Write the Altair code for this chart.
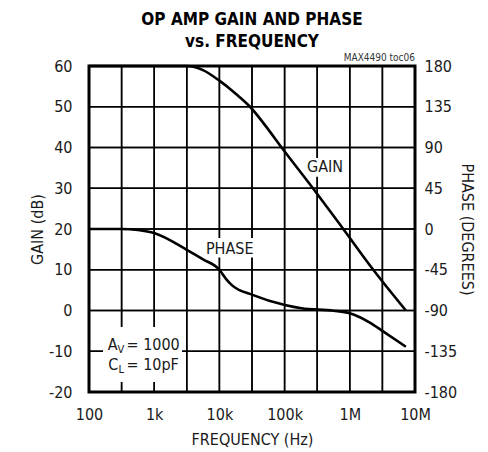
import altair as alt
import pandas as pd

# ---------------- data ----------------
gain_freq = [100, 316, 1000, 3160, 5600, 10000, 17800, 29500, 50000, 90000, 272000,
             794000, 2290000, 7250000]
gain_db = [60, 60, 60, 60, 59.0, 56.4, 53.2, 50, 45.5, 40, 30, 20, 10, 0]

phase_freq = [100, 316, 562, 1020, 3160, 5620, 10000, 12600, 15500, 33000, 101000,
              182000, 562000, 1000000, 2000000, 3240000, 7250000]
phase_deg = [0, 0, -1.1, -4.7, -23, -33.5, -45, -55, -62, -73, -84, -87.6, -90.2,
             -93, -103, -113, -130]

x_tick_decades = [100, 1000, 10000, 100000, 1000000, 10000000]
x_tick_labels = ["100", "1k", "10k", "100k", "1M", "10M"]
gain_ticks = [-20, -10, 0, 10, 20, 30, 40, 50, 60]
phase_ticks = [-180, -135, -90, -45, 0, 45, 90, 135, 180]

# curve labels
curve_label_text = ["GAIN", "PHASE"]
curve_label_freq = [417000, 14400]
curve_label_db = [35.2, 15.1]

# condition box text pieces (A_V = 1000, C_L = 10pF)
cond_text = ["A", "V", "= 1000", "C", "L", "= 10pF"]
cond_freq = [193.6, 274.6, 376, 197.7, 284.4, 376]
cond_db = [-9.69, -10.4, -9.69, -14.6, -15.3, -14.6]
cond_size = [16, 11, 16, 16, 11, 16]

# white boxes behind labels
box_f1 = [164, 221000, 6000]
box_f2 = [2670, 875000, 36500]
box_d1 = [-4.05, 37.4, 17.8]
box_d2 = [-17.55, 32.8, 13.0]

FONT = "Liberation Sans Narrow, Arial Narrow, DejaVu Sans Condensed, sans-serif"
TXT = "#1a1a1a"
GRID = "black"
GRID_W = 1.5

# ---------------- tables ----------------
gain_df = pd.DataFrame({"freq": gain_freq, "db": gain_db})
phase_df = pd.DataFrame({"freq": phase_freq, "deg": phase_deg})
lab_df = pd.DataFrame({"freq": curve_label_freq, "db": curve_label_db, "t": curve_label_text})
cond_df = pd.DataFrame({"freq": cond_freq, "db": cond_db, "t": cond_text, "s": cond_size})
box_df = pd.DataFrame({"freq": box_f1, "freq2": box_f2, "db": box_d1, "db2": box_d2})
toc_df = pd.DataFrame({"freq": [10000000], "db": [60], "t": ["MAX4490 toc06"]})

grid_vals = []
for d in x_tick_decades:
    grid_vals.append(d)
    if d < x_tick_decades[-1]:
        grid_vals.append(d * 10 ** 0.5)
f_lo, f_hi = x_tick_decades[0], x_tick_decades[-1]
g_lo, g_hi = gain_ticks[0], gain_ticks[-1]
vgrid_df = pd.DataFrame({"freq": grid_vals})
hgrid_df = pd.DataFrame({"db": gain_ticks})
grid_rows = []
for i, f in enumerate(grid_vals):
    grid_rows.append({"freq": f, "db": g_lo, "id": f"v{i}"})
    grid_rows.append({"freq": f, "db": g_hi, "id": f"v{i}"})
for i, g in enumerate(gain_ticks):
    grid_rows.append({"freq": f_lo, "db": g, "id": f"h{i}"})
    grid_rows.append({"freq": f_hi, "db": g, "id": f"h{i}"})
grid_df = pd.DataFrame(grid_rows)

label_expr = ""
for v, l in zip(x_tick_decades, x_tick_labels):
    label_expr += f"abs(datum.value - {v}) < {v * 0.001} ? '{l}' : "
label_expr += "''"

x_scale = alt.Scale(type="log", domain=[f_lo, f_hi], nice=False)
x_axis = alt.Axis(
    values=grid_vals, labelExpr=label_expr, grid=False, ticks=False, domain=False,
    labelPadding=14, labelFontSize=16, labelFont=FONT, labelColor=TXT,
    title="FREQUENCY (Hz)", titleFont=FONT, titleFontSize=16,
    titleFontWeight="normal", titleColor=TXT, titlePadding=9,
    labelFlush=False, labelOverlap=False,
)
x_enc = alt.X("freq:Q", scale=x_scale, axis=x_axis)

y_axis = alt.Axis(
    orient="left", values=gain_ticks, labelExpr="'' + datum.value", grid=False,
    ticks=False, domain=False, labelPadding=17, labelFontSize=16, labelFont=FONT,
    labelColor=TXT, title="GAIN (dB)", titleFont=FONT, titleFontSize=16,
    titleFontWeight="normal", titleColor=TXT, titlePadding=3,
)
y_enc = alt.Y("db:Q", scale=alt.Scale(domain=[g_lo, g_hi], nice=False, zero=False), axis=y_axis)
y_ann = alt.Y("db:Q", scale=alt.Scale(domain=[g_lo, g_hi], nice=False, zero=False), axis=None)

grid_lines = alt.Chart(grid_df).mark_line(color=GRID, strokeWidth=GRID_W).encode(
    x=x_enc, y=y_enc, detail="id:N"
)
vgrid = alt.Chart(vgrid_df).mark_rule(color=GRID, strokeWidth=GRID_W).encode(x=x_enc)
hgrid = alt.Chart(hgrid_df).mark_rule(color=GRID, strokeWidth=GRID_W).encode(y=y_enc)

gain_line = alt.Chart(gain_df).mark_line(
    color="black", strokeWidth=2.6, interpolate="monotone"
).encode(x=x_enc, y=y_enc)

phase_line = alt.Chart(phase_df).mark_line(
    color="black", strokeWidth=2.6, interpolate="monotone"
).encode(
    x=x_enc,
    y=alt.Y(
        "deg:Q", scale=alt.Scale(domain=[-180, 180], nice=False, zero=False),
        axis=alt.Axis(
            orient="right", values=phase_ticks, labelExpr="'' + datum.value", grid=False,
            ticks=False, domain=False, labelPadding=9, labelFontSize=16, labelFont=FONT,
            labelColor=TXT, title="PHASE (DEGREES)", titleFont=FONT, titleFontSize=16,
            titleFontWeight="normal", titleColor=TXT, titlePadding=2,
        ),
    ),
)

boxes = alt.Chart(box_df).mark_rect(color="white").encode(
    x=x_enc, x2=alt.X2("freq2"), y=y_ann, y2=alt.Y2("db2")
)
labels = alt.Chart(lab_df).mark_text(
    font=FONT, fontSize=16, color=TXT, align="center", baseline="middle"
).encode(x=x_enc, y=y_ann, text="t:N")
cond = alt.Chart(cond_df).mark_text(
    font=FONT, color=TXT, align="left", baseline="alphabetic"
).encode(x=x_enc, y=y_ann, text="t:N", size=alt.Size("s:Q", scale=None))
toc = alt.Chart(toc_df).mark_text(
    font=FONT, fontSize=10, color="#333", align="right", baseline="alphabetic", dy=-5
).encode(x=x_enc, y=y_ann, text="t:N")

annotations = alt.layer(boxes, labels, cond, toc)

chart = alt.layer(
    alt.layer(grid_lines, vgrid, hgrid, gain_line), phase_line, annotations
).resolve_scale(y="independent").properties(
    width=326,
    height=326,
    autosize=alt.AutoSizeParams(type="none"),
    padding={"left": 81, "top": 58, "right": 64, "bottom": 56},
    title=alt.TitleParams(
        text=["OP AMP GAIN AND PHASE", "vs. FREQUENCY"], font=FONT, fontSize=17,
        fontWeight="bold", lineHeight=22, anchor="middle", frame="group",
        offset=2, color="black",
    ),
    background="white",
).configure_view(stroke="black", strokeWidth=3)

chart.save("out.html", embed_options={"renderer": "svg", "actions": False})
